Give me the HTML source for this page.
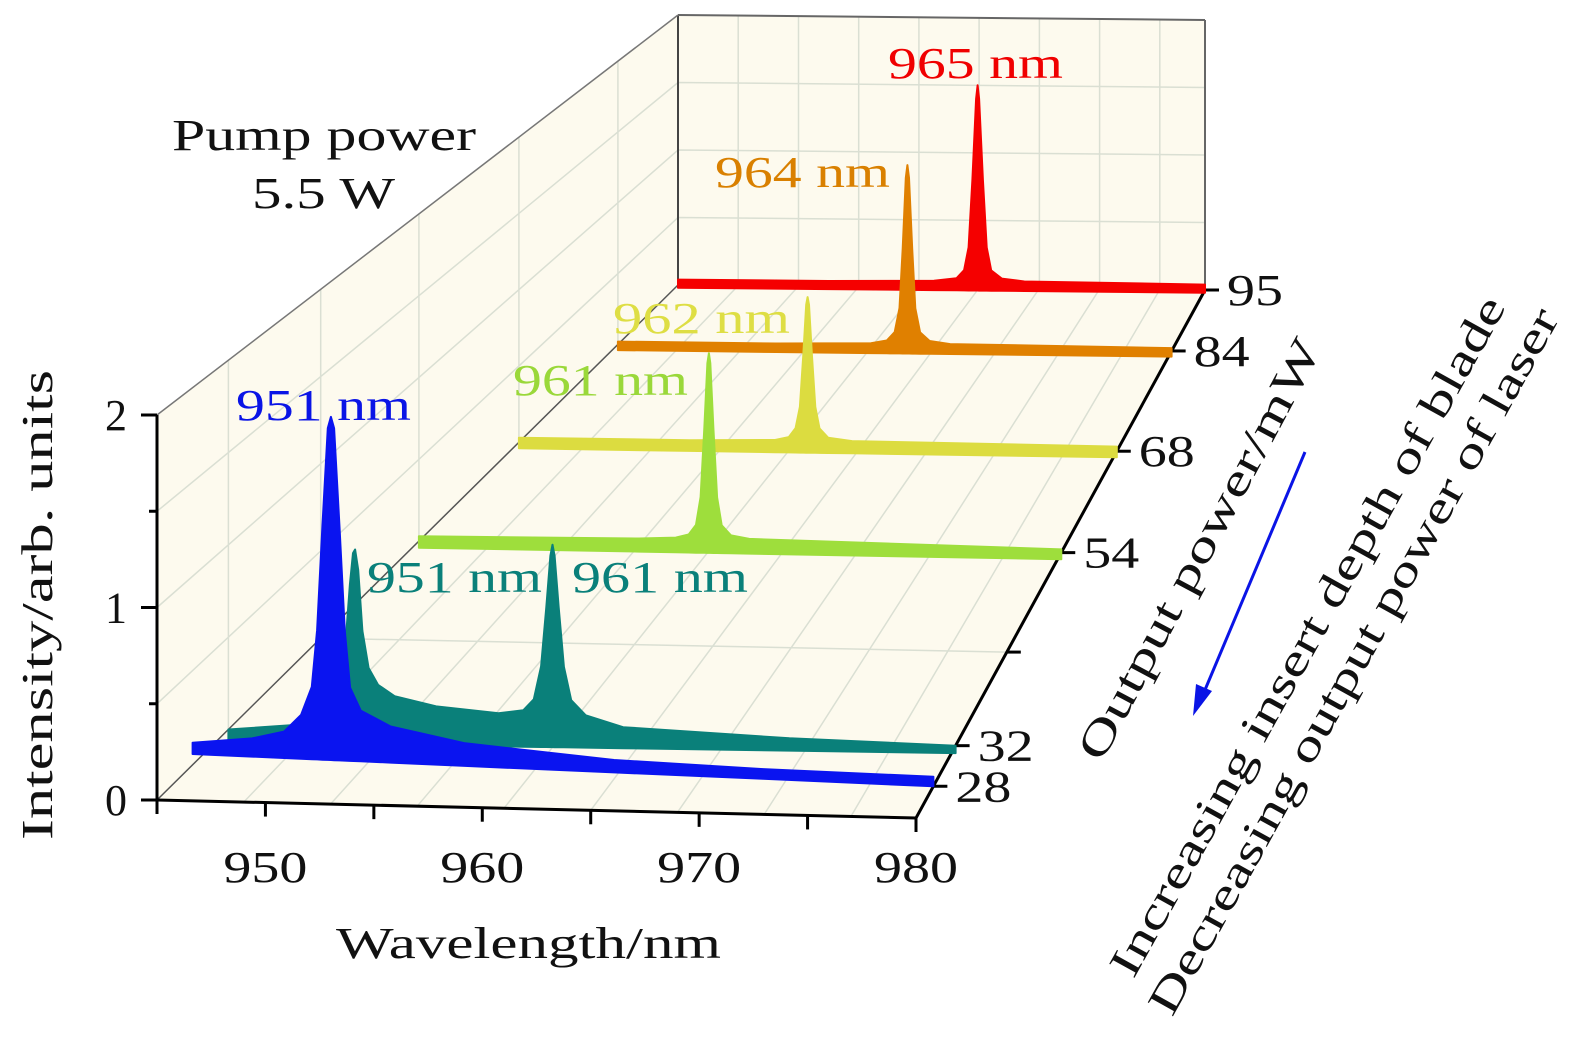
<!DOCTYPE html>
<html><head><meta charset="utf-8"><style>
html,body{margin:0;padding:0;background:#fff;}
svg{display:block;font-family:"Liberation Serif",serif;}
</style></head><body>
<svg id="chart" width="1575" height="1043" viewBox="0 0 1575 1043" xmlns="http://www.w3.org/2000/svg">
<g id="walls"></g>
<g id="grid"></g>
<g id="series"></g>
<g id="axes"></g>
<g font-size="44">
<text x="888" y="78" fill="#f00000" textLength="175" lengthAdjust="spacingAndGlyphs">965 nm</text>
<text x="715" y="187" fill="#d98000" textLength="175" lengthAdjust="spacingAndGlyphs">964 nm</text>
<text x="613" y="333" fill="#dede44" textLength="177" lengthAdjust="spacingAndGlyphs">962 nm</text>
<text x="513" y="395" fill="#9ad83a" textLength="175" lengthAdjust="spacingAndGlyphs">961 nm</text>
<text x="236" y="420" fill="#0a14e6" textLength="175" lengthAdjust="spacingAndGlyphs">951 nm</text>
<text x="367" y="592" fill="#0a807a" textLength="175" lengthAdjust="spacingAndGlyphs">951 nm</text>
<text x="572" y="592" fill="#0a807a" textLength="176" lengthAdjust="spacingAndGlyphs">961 nm</text>
<text x="172" y="150" fill="#111" textLength="304" lengthAdjust="spacingAndGlyphs">Pump power</text>
<text x="252" y="208" fill="#111" textLength="143" lengthAdjust="spacingAndGlyphs">5.5 W</text>
</g>
<g font-size="44" fill="#111">
<text x="336" y="958" textLength="385" lengthAdjust="spacingAndGlyphs">Wavelength/nm</text>
<text transform="translate(52,605) rotate(-90)" text-anchor="middle" textLength="470" lengthAdjust="spacingAndGlyphs">Intensity/arb. units</text>
<text transform="translate(1212,556) rotate(-62)" text-anchor="middle" textLength="470" lengthAdjust="spacingAndGlyphs">Output power/mW</text>
<text transform="translate(1320,643) rotate(-61)" text-anchor="middle" textLength="770" lengthAdjust="spacingAndGlyphs">Increasing insert depth of blade</text>
<text transform="translate(1366,668) rotate(-61)" text-anchor="middle" textLength="800" lengthAdjust="spacingAndGlyphs">Decreasing output power of laser</text>
</g>
<g>
<line x1="1305" y1="452" x2="1202" y2="697" stroke="#0a14e6" stroke-width="3"/>
<polygon points="1193,716 1196,684 1212,691" fill="#0a14e6"/>
</g>
</svg>
<script>
// ---- data ----
const powers = [95, 84, 68, 54, 32, 28];
const colors = ["#f50000", "#e08000", "#dcdc40", "#9ede3c", "#0a807a", "#0a14f0"];
const wlRed = [945, 955, 962, 963.5, 964.0, 964.3, 964.55, 964.8, 964.9, 965.0, 965.25, 965.5, 965.8, 966.5, 968, 980];
const inRed = [0.04, 0.04, 0.05, 0.07, 0.13, 0.3, 0.8, 1.4, 1.5, 1.4, 0.8, 0.3, 0.13, 0.07, 0.05, 0.04];
const wlOrange = [945, 955, 961, 962.0, 962.5, 962.8, 963.0, 963.2, 963.3, 963.4, 963.6, 963.8, 964.1, 964.7, 966, 980];
const inOrange = [0.02, 0.02, 0.03, 0.05, 0.11, 0.28, 0.7, 1.2, 1.29, 1.2, 0.7, 0.28, 0.11, 0.05, 0.03, 0.02];
const wlYellow = [945, 955, 960.0, 960.8, 961.2, 961.45, 961.65, 961.82, 961.9, 961.98, 962.15, 962.35, 962.6, 963.1, 964.5, 980];
const inYellow = [0.03, 0.03, 0.04, 0.06, 0.12, 0.26, 0.6, 0.93, 0.98, 0.93, 0.6, 0.26, 0.12, 0.06, 0.04, 0.03];
const wlGreen = [945, 957, 959.0, 959.7, 960.1, 960.35, 960.55, 960.72, 960.8, 960.88, 961.05, 961.25, 961.5, 962.0, 963.0, 980];
const inGreen = [0.03, 0.04, 0.05, 0.07, 0.13, 0.3, 0.72, 1.12, 1.18, 1.12, 0.72, 0.3, 0.13, 0.07, 0.05, 0.02];
const wlTeal = [945, 948, 949.5, 950.1, 950.4, 950.65, 950.85, 951.0, 951.1, 951.25, 951.45, 951.75, 952.2, 953, 955, 958, 959.2, 959.7, 960.05, 960.3, 960.5, 960.6, 960.7, 960.9, 961.15, 961.5, 962.2, 964, 972, 980];
const inTeal = [0.0, 0.03, 0.07, 0.13, 0.25, 0.5, 0.8, 0.97, 0.99, 0.88, 0.55, 0.35, 0.26, 0.2, 0.15, 0.12, 0.14, 0.2, 0.38, 0.7, 0.98, 1.04, 0.98, 0.7, 0.38, 0.2, 0.12, 0.06, 0.02, 0.0];
const wlBlue = [945.2, 948, 949.5, 950.3, 950.8, 951.05, 951.3, 951.55, 951.7, 951.85, 952.1, 952.35, 952.6, 953.1, 954.5, 958, 965, 972, 980];
const inBlue = [0.14, 0.17, 0.21, 0.3, 0.45, 0.75, 1.3, 1.82, 1.88, 1.82, 1.3, 0.75, 0.45, 0.33, 0.25, 0.17, 0.1, 0.07, 0.05];
const bottomLeft = [-0.02, -0.04, -0.04, -0.04, -0.07, 0.08];
const bottomRight = [-0.02, -0.04, -0.04, -0.04, -0.04, 0.0];
const xTicks = [950, 960, 970, 980];
const xMinorTicks = [945, 955, 965, 975];
const zTicks = [0, 1, 2];
const pTicks = [28, 32, 54, 68, 84, 95];
// ---- projection ----
const W0 = 945, W1 = 980, P0 = 25, P1 = 95;
function sOf(p){ const t = (p - P0) / (P1 - P0); return t / (t + 0.7 * (1 - t)); }
function proj(w, p, z){
  const s = sOf(p), u = (w - W0) / (W1 - W0);
  const fx = 157 + u * 759, fy = 800 + u * 18, bx = 678 + u * 527, by = 285 + u * 5;
  return [fx + (bx - fx) * s, fy + (by - fy) * s - z * (192.5 - 57.5 * s)];
}
const NS = "http://www.w3.org/2000/svg";
function mk(parent, tag, attrs){ const e = document.createElementNS(NS, tag); for (const k in attrs) e.setAttribute(k, attrs[k]); parent.appendChild(e); return e; }
function pts(a){ return a.map(q => q[0].toFixed(1) + "," + q[1].toFixed(1)).join(" "); }
const gW = document.getElementById("walls"), gG = document.getElementById("grid"), gS = document.getElementById("series"), gA = document.getElementById("axes");
const floor = mk(gW, "polygon", {points: pts([proj(W0,P0,0), proj(W1,P0,0), proj(W1,P1,0), proj(W0,P1,0)]), fill: "#fdfaee"});


const left = mk(gW, "polygon", {points: pts([proj(W0,P0,0), proj(W0,P1,0), proj(W0,P1,2), proj(W0,P0,2)]), fill: "#fdfaee"});


const back = mk(gW, "polygon", {points: pts([proj(W0,P1,0), proj(W1,P1,0), proj(W1,P1,2), proj(W0,P1,2)]), fill: "#fdfaee"});


const gc = "#dadfd3";
for (let w = 949; w < W1; w += 4) {
  const l = mk(gG, "polyline", {points: pts([proj(w,P0,0), proj(w,P1,0), proj(w,P1,2)]), fill: "none", stroke: gc, "stroke-width": 1.5});
  
  
}
for (let z = 0.5; z < 2; z += 0.5) {
  const l = mk(gG, "polyline", {points: pts([proj(W0,P0,z), proj(W0,P1,z), proj(W1,P1,z)]), fill: "none", stroke: gc, "stroke-width": 1.5});
  
  
}
[32, 42, 54, 68, 84].forEach(p => {
  const l = mk(gG, "polyline", {points: pts([proj(W1,p,0), proj(W0,p,0), proj(W0,p,2)]), fill: "none", stroke: gc, "stroke-width": 1.5});
  
  
});
const edge = (a, b, col, wd, name) => { const l = mk(gG, "line", {x1: a[0], y1: a[1], x2: b[0], y2: b[1], stroke: col, "stroke-width": wd});   };
edge(proj(W0,P1,0), proj(W0,P1,2), "#444", 2, "back-left-edge");
edge(proj(W0,P1,0), proj(W1,P1,0), "#444", 2, "back-bottom-edge");
edge(proj(W0,P1,2), proj(W1,P1,2), "#666", 2, "back-top-edge");
edge(proj(W1,P1,0), proj(W1,P1,2), "#666", 2, "back-right-edge");
edge(proj(W0,P0,2), proj(W0,P1,2), "#777", 1.5, "left-top-edge");
edge(proj(W0,P0,0), proj(W0,P1,0), "#555", 1.5, "left-bottom-edge");
const wls = [wlRed, wlOrange, wlYellow, wlGreen, wlTeal, wlBlue];
const ins = [inRed, inOrange, inYellow, inGreen, inTeal, inBlue];
const names = ["spectrum-95mw", "spectrum-84mw", "spectrum-68mw", "spectrum-54mw", "spectrum-32mw", "spectrum-28mw"];
powers.forEach((p, i) => {
  const wl = wls[i], iv = ins[i], n = wl.length;
  const top = wl.map((w, k) => proj(w, p, iv[k]));
  const bot = [];
  for (let k = n - 1; k >= 0; k--) {
    const f = (wl[k] - wl[0]) / (wl[n-1] - wl[0]);
    bot.push(proj(wl[k], p, bottomLeft[i] + (bottomRight[i] - bottomLeft[i]) * f));
  }
  const poly = mk(gS, "polygon", {points: pts(top.concat(bot)), fill: colors[i], stroke: colors[i], "stroke-width": 2, "stroke-linejoin": "round"});
  
  
});
edge(proj(W0,P0,0), proj(W1,P0,0), "#000", 3, "x-axis-line");
edge(proj(W0,P0,0), proj(W0,P0,2), "#000", 3, "z-axis-line");
edge(proj(W1,P0,0), proj(W1,P1,0), "#000", 3, "depth-axis-line");
xTicks.concat(xMinorTicks).forEach(w => {
  const a = proj(w,P0,0);
  edge(a, [a[0], a[1] + 14], "#000", 3, "x-tick");
});
xTicks.forEach(w => {
  const a = proj(w,P0,0);
  const t = mk(gA, "text", {x: a[0], y: 882, "text-anchor": "middle", "font-size": 44, fill: "#111", textLength: 84, lengthAdjust: "spacingAndGlyphs"});
  t.textContent = w;
  
  
});
[0, 0.5, 1, 1.5, 2].forEach(z => {
  const a = proj(W0,P0,z);
  edge([a[0] - (zTicks.includes(z) ? 16 : 8), a[1]], a, "#000", 3, "z-tick");
});
zTicks.forEach(z => {
  const a = proj(W0,P0,z);
  const t = mk(gA, "text", {x: a[0] - 30, y: a[1] + 15, "text-anchor": "end", "font-size": 44, fill: "#111"});
  t.textContent = z;
  
  
});
pTicks.concat([42]).forEach(p => {
  const a = proj(W1,p,0);
  edge(a, [a[0] + 14, a[1]], "#000", 3, "depth-tick");
});
pTicks.forEach(p => {
  const a = proj(W1,p,0);
  const t = mk(gA, "text", {x: a[0] + 22, y: a[1] + 15, "font-size": 44, fill: "#111", textLength: 56, lengthAdjust: "spacingAndGlyphs"});
  t.textContent = p;
  
  
});
</script>
</body></html>
